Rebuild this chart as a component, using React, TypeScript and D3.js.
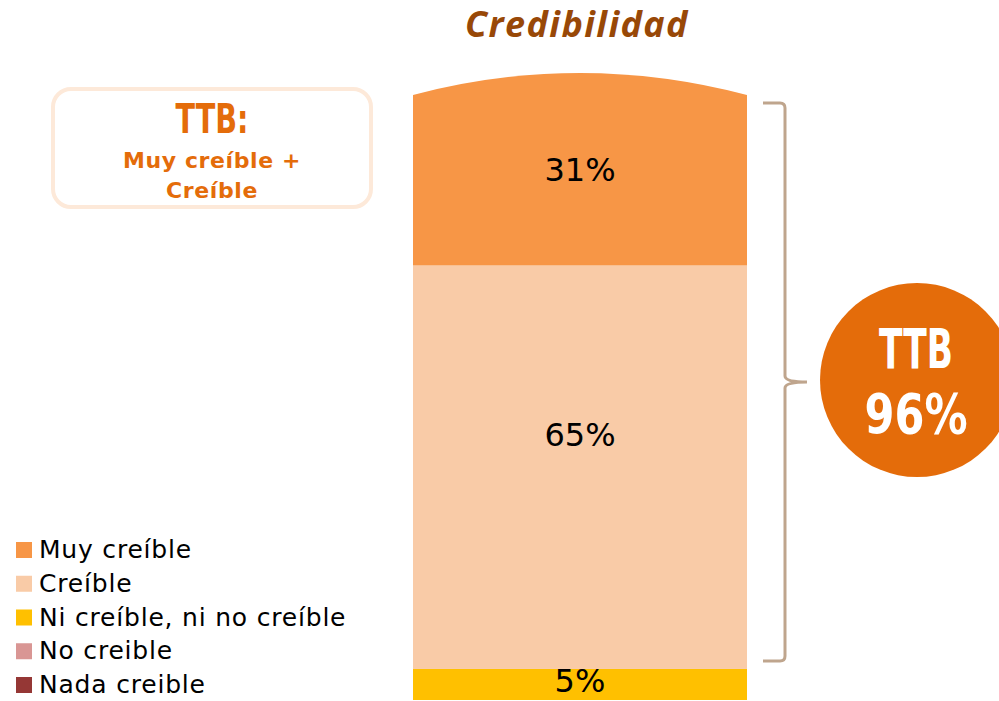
import React, { useRef, useEffect } from "react";
import * as d3 from "d3";

// series, bottom to top of the stack
const categories = ["Nada creible", "No creible", "Ni creíble, ni no creíble", "Creíble", "Muy creíble"];
const values = [0, 0, 5, 65, 31];
const colors = ["#953735", "#d99694", "#ffc000", "#f9cba7", "#f79646"];
const legendOrder = ["Muy creíble", "Creíble", "Ni creíble, ni no creíble", "No creible", "Nada creible"];
const ttbValue = 96;

const W = 999,
  H = 701;

const App = () => {
  const ref = useRef<SVGSVGElement>(null);

  useEffect(() => {
    const svg = d3.select(ref.current).attr("viewBox", [0, 0, W, H]);
    svg.selectAll("*").remove();

    const row: any = {};
    categories.forEach((c, i) => (row[c] = values[i]));
    const series = d3.stack().keys(categories)([row]);
    const color = d3.scaleOrdinal<string>().domain(categories).range(colors);

    const x = d3.scaleBand().domain(["Credibilidad"]).range([413, 747]).padding(0);
    const y = d3
      .scaleLinear()
      .domain([0, d3.sum(values)])
      .range([700, 73]);

    const x0 = x("Credibilidad")!;
    const bw = x.bandwidth();
    const top = y(d3.sum(values));

    // rounded top of the column
    svg
      .append("clipPath")
      .attr("id", "barclip")
      .append("path")
      .attr(
        "d",
        `M${x0},${H}V${top + 22}Q${x0 + bw / 2},${top - 22} ${x0 + bw},${top + 22}V${H}Z`
      );

    const g = svg.append("g").attr("clip-path", "url(#barclip)");
    g.selectAll("rect")
      .data(series)
      .join("rect")
      .attr("x", x0)
      .attr("width", bw)
      .attr("y", (d) => y(d[0][1]))
      .attr("height", (d) => y(d[0][0]) - y(d[0][1]))
      .attr("fill", (d) => color(d.key));

    // value labels; the tall segment's label sits a little above its middle
    const labelY = (d: any) => {
      const v = d[0][1] - d[0][0];
      if (v < 10) return y(d[0][1]) + 14;
      const mid = (y(d[0][0]) + y(d[0][1])) / 2;
      return v > 50 ? mid - 30 : mid + 3;
    };
    svg
      .append("g")
      .selectAll("text")
      .data(series.filter((d) => d[0][1] - d[0][0] > 0))
      .join("text")
      .attr("x", x0 + bw / 2)
      .attr("y", labelY)
      .attr("text-anchor", "middle")
      .attr("dominant-baseline", "middle")
      .attr("font-family", "'DejaVu Sans', sans-serif")
      .attr("font-size", 32)
      .attr("fill", "#000")
      .text((d) => `${d[0][1] - d[0][0]}%`);

    // title
    svg
      .append("text")
      .attr("x", 577)
      .attr("y", 37)
      .attr("text-anchor", "middle")
      .attr("font-family", "'Open Sans', sans-serif")
      .attr("font-weight", "bold")
      .attr("font-style", "italic")
      .attr("font-size", 36)
      .attr("letter-spacing", 1.4)
      .attr("fill", "#984807")
      .text("Credibilidad");

    // bracket across the TTB segments
    const bTop = y(values[3] + values[4] + values[2]) + 30;
    const bBot = y(values[2]) - 8;
    const bMid = (bTop + bBot) / 2;
    const bx = 785;
    svg
      .append("path")
      .attr(
        "d",
        `M763,${bTop}H${bx - 5}Q${bx},${bTop} ${bx},${bTop + 5}V${bMid - 6}Q${bx},${bMid} ${bx + 22},${bMid}` +
          `Q${bx},${bMid} ${bx},${bMid + 6}V${bBot - 5}Q${bx},${bBot} ${bx - 5},${bBot}H763`
      )
      .attr("fill", "none")
      .attr("stroke", "#bfa58d")
      .attr("stroke-width", 3);

    // TTB circle
    svg.append("circle").attr("cx", 917).attr("cy", 380).attr("r", 97).attr("fill", "#e46c0a");
    svg
      .append("text")
      .attr("x", 916)
      .attr("y", 368)
      .attr("text-anchor", "middle")
      .attr("font-family", "'DejaVu Sans', sans-serif")
      .attr("font-weight", "bold")
      .attr("font-size", 56)
      .attr("textLength", 74)
      .attr("lengthAdjust", "spacingAndGlyphs")
      .attr("fill", "#fff")
      .text("TTB");
    svg
      .append("text")
      .attr("x", 916)
      .attr("y", 433)
      .attr("text-anchor", "middle")
      .attr("font-family", "'DejaVu Sans', sans-serif")
      .attr("font-weight", "bold")
      .attr("font-size", 56)
      .attr("textLength", 103)
      .attr("lengthAdjust", "spacingAndGlyphs")
      .attr("fill", "#fff")
      .text(`${ttbValue}%`);

    // TTB note box
    svg
      .append("rect")
      .attr("x", 53)
      .attr("y", 89)
      .attr("width", 318)
      .attr("height", 118)
      .attr("rx", 18)
      .attr("fill", "#fff")
      .attr("stroke", "#fde9d9")
      .attr("stroke-width", 4);
    const note = svg
      .append("g")
      .attr("text-anchor", "middle")
      .attr("fill", "#e46c0a")
      .attr("font-weight", "bold");
    note
      .append("text")
      .attr("x", 212)
      .attr("y", 133)
      .attr("font-family", "'DejaVu Sans', sans-serif")
      .attr("font-size", 41)
      .attr("textLength", 73)
      .attr("lengthAdjust", "spacingAndGlyphs")
      .text("TTB:");
    note
      .append("text")
      .attr("x", 212)
      .attr("y", 168)
      .attr("font-family", "'DejaVu Sans', sans-serif")
      .attr("font-size", 22)
      .attr("letter-spacing", 0.6)
      .text("Muy creíble +");
    note
      .append("text")
      .attr("x", 212)
      .attr("y", 198)
      .attr("font-family", "'DejaVu Sans', sans-serif")
      .attr("font-size", 22)
      .attr("letter-spacing", 0.6)
      .text("Creíble");

    // legend
    const ly = d3.scalePoint().domain(legendOrder).range([550, 685]);
    const leg = svg
      .append("g")
      .selectAll("g")
      .data(legendOrder)
      .join("g")
      .attr("transform", (d) => `translate(16,${ly(d)})`);
    leg
      .append("rect")
      .attr("x", 0)
      .attr("y", -8)
      .attr("width", 16)
      .attr("height", 16)
      .attr("fill", (d) => color(d));
    leg
      .append("text")
      .attr("x", 23)
      .attr("y", 1)
      .attr("dominant-baseline", "middle")
      .attr("font-family", "'DejaVu Sans', sans-serif")
      .attr("font-size", 25)
      .attr("letter-spacing", 0.8)
      .attr("fill", "#000")
      .text((d) => d);
  }, []);

  return (
    <svg
      ref={ref}
      width={W}
      height={H}
      style={{ position: "absolute", left: 0, top: 0, display: "block", background: "#fff" }}
    ></svg>
  );
};

export default App;
